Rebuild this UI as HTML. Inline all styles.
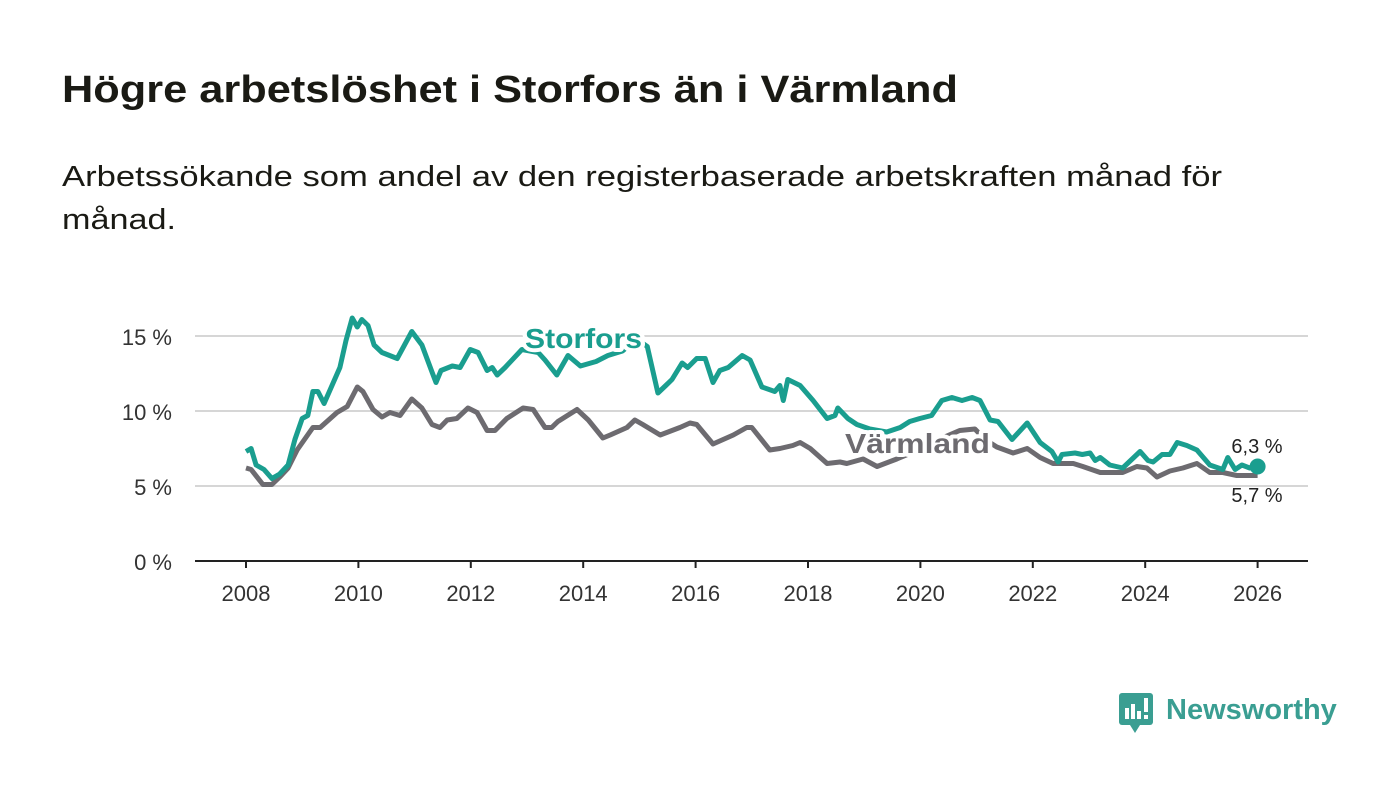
<!DOCTYPE html>
<html><head><meta charset="utf-8">
<style>
body{margin:0;background:#fff;width:1400px;height:794px;overflow:hidden;font-family:"Liberation Sans","DejaVu Sans",sans-serif}
</style></head>
<body>
<svg width="1400" height="794" style="position:absolute;left:0;top:0">
<text x="62" y="102" font-size="38" font-weight="bold" fill="#1a1a14" textLength="896" lengthAdjust="spacingAndGlyphs">Högre arbetslöshet i Storfors än i Värmland</text>
<text x="62" y="186" font-size="29" fill="#1a1a14" textLength="1160" lengthAdjust="spacingAndGlyphs">Arbetssökande som andel av den registerbaserade arbetskraften månad för</text>
<text x="62" y="229" font-size="29" fill="#1a1a14" textLength="114" lengthAdjust="spacingAndGlyphs">månad.</text>
<g id="grid"></g><g id="axis"></g><g id="series"></g><g id="labels"></g>
<g>
<rect x="1119" y="693" width="34" height="32" rx="3" fill="#3a9e92"/>
<polygon points="1130,725 1140,725 1135,733" fill="#3a9e92"/>
<rect x="1125" y="708" width="4" height="11" fill="#fff"/><rect x="1131" y="704" width="4" height="15" fill="#fff"/><rect x="1137" y="711" width="4" height="8" fill="#fff"/><rect x="1144" y="698" width="4" height="14" fill="#fff"/><rect x="1144" y="715" width="4" height="4" fill="#fff"/>
<text x="1166" y="719" font-size="29" font-weight="bold" fill="#3a9e92">Newsworthy</text>
</g>
</svg>
<script>
const yTicks=[0,5,10,15];
const yTickLabels=["0 %","5 %","10 %","15 %"];
const xTicks=[2008,2010,2012,2014,2016,2018,2020,2022,2024,2026];
const storforsYears=[2008.0,2008.09,2008.18,2008.32,2008.46,2008.6,2008.75,2008.87,2009.0,2009.1,2009.19,2009.28,2009.39,2009.53,2009.67,2009.78,2009.89,2009.98,2010.06,2010.17,2010.28,2010.42,2010.69,2010.95,2011.13,2011.31,2011.38,2011.47,2011.67,2011.81,2011.99,2012.13,2012.29,2012.38,2012.47,2012.61,2012.91,2013.2,2013.32,2013.53,2013.73,2013.95,2014.23,2014.44,2014.7,2014.95,2015.14,2015.33,2015.47,2015.58,2015.76,2015.86,2016.02,2016.17,2016.31,2016.43,2016.58,2016.83,2016.97,2017.18,2017.41,2017.5,2017.56,2017.64,2017.86,2018.09,2018.34,2018.48,2018.53,2018.71,2018.87,2019.1,2019.4,2019.64,2019.81,2019.99,2020.2,2020.38,2020.56,2020.74,2020.92,2021.06,2021.24,2021.38,2021.63,2021.9,2022.13,2022.34,2022.45,2022.52,2022.75,2022.88,2023.02,2023.11,2023.2,2023.37,2023.6,2023.91,2024.05,2024.14,2024.3,2024.44,2024.57,2024.74,2024.92,2025.15,2025.38,2025.47,2025.6,2025.72,2025.86,2026.0];
const storforsValues=[7.3,7.5,6.4,6.1,5.5,5.8,6.4,8.1,9.5,9.7,11.3,11.3,10.5,11.7,12.9,14.7,16.2,15.6,16.1,15.7,14.4,13.9,13.5,15.3,14.4,12.6,11.9,12.7,13.0,12.9,14.1,13.9,12.7,12.9,12.4,12.9,14.1,13.9,13.4,12.4,13.7,13.0,13.3,13.7,14.0,14.8,14.3,11.2,11.7,12.1,13.2,12.9,13.5,13.5,11.9,12.7,12.9,13.7,13.4,11.6,11.3,11.7,10.7,12.1,11.7,10.7,9.5,9.7,10.2,9.5,9.1,8.8,8.6,8.9,9.3,9.5,9.7,10.7,10.9,10.7,10.9,10.7,9.4,9.3,8.1,9.2,7.9,7.3,6.6,7.1,7.2,7.1,7.2,6.7,6.9,6.4,6.2,7.3,6.7,6.6,7.1,7.1,7.9,7.7,7.4,6.4,6.1,6.9,6.1,6.4,6.2,6.3];
const varmlandYears=[2008.0,2008.09,2008.3,2008.46,2008.6,2008.75,2008.91,2009.19,2009.32,2009.62,2009.8,2009.98,2010.08,2010.26,2010.42,2010.56,2010.74,2010.95,2011.13,2011.31,2011.45,2011.58,2011.75,2011.95,2012.11,2012.29,2012.43,2012.64,2012.93,2013.11,2013.32,2013.44,2013.55,2013.89,2014.09,2014.35,2014.48,2014.78,2014.92,2015.06,2015.37,2015.72,2015.9,2016.02,2016.31,2016.67,2016.91,2017.0,2017.32,2017.5,2017.73,2017.86,2018.04,2018.34,2018.57,2018.69,2018.98,2019.23,2019.58,2019.9,2020.2,2020.45,2020.7,2020.97,2021.15,2021.36,2021.65,2021.9,2022.13,2022.36,2022.72,2022.89,2023.2,2023.6,2023.85,2024.03,2024.21,2024.44,2024.67,2024.92,2025.15,2025.38,2025.63,2025.86,2026.0];
const varmlandValues=[6.2,6.1,5.1,5.1,5.6,6.2,7.4,8.9,8.9,9.9,10.3,11.6,11.3,10.1,9.6,9.9,9.7,10.8,10.2,9.1,8.9,9.4,9.5,10.2,9.9,8.7,8.7,9.5,10.2,10.1,8.9,8.9,9.3,10.1,9.4,8.2,8.4,8.9,9.4,9.1,8.4,8.9,9.2,9.1,7.8,8.4,8.9,8.9,7.4,7.5,7.7,7.9,7.5,6.5,6.6,6.5,6.8,6.3,6.8,7.3,7.9,8.3,8.7,8.8,8.1,7.6,7.2,7.5,6.9,6.5,6.5,6.3,5.9,5.9,6.3,6.2,5.6,6.0,6.2,6.5,5.9,5.9,5.7,5.7,5.7];
const NS='http://www.w3.org/2000/svg';
const X=y=>246+(y-2008)*56.2;
const Y=v=>561-v*15;
function mk(tag,attrs,parent){const e=document.createElementNS(NS,tag);for(const k in attrs)e.setAttribute(k,attrs[k]);document.getElementById(parent).appendChild(e);return e;}
yTicks.forEach((t,i)=>{
  if(t>0){const g=mk('line',{x1:195,x2:1308,y1:Y(t),y2:Y(t),stroke:'#d6d6d6','stroke-width':2},'grid');
  
  }
  const l=mk('text',{x:172,y:Y(t)+9,'font-size':22,'text-anchor':'end',fill:'#333'},'axis');l.textContent=yTickLabels[i];
  
  
});
const ax=mk('line',{x1:195,x2:1308,y1:561,y2:561,stroke:'#222','stroke-width':2},'axis');


xTicks.forEach(t=>{
  const tk=mk('line',{x1:X(t),x2:X(t),y1:561,y2:568,stroke:'#222','stroke-width':2},'axis');
  
  
  const l=mk('text',{x:X(t),y:601,'font-size':22,'text-anchor':'middle',fill:'#333'},'axis');l.textContent=t;
  
  
});
function path(ys,vs){return ys.map((y,i)=>(i?'L':'M')+X(y).toFixed(1)+','+Y(vs[i]).toFixed(1)).join('');}
const pv=mk('path',{d:path(varmlandYears,varmlandValues),fill:'none',stroke:'#6d6b70','stroke-width':5,'stroke-linejoin':'round'},'series');


const ps=mk('path',{d:path(storforsYears,storforsValues),fill:'none',stroke:'#1a9e8f','stroke-width':5,'stroke-linejoin':'round'},'series');


const ls=storforsYears.length-1,lv=varmlandYears.length-1;
const dot=mk('circle',{cx:X(storforsYears[ls]),cy:Y(storforsValues[ls]),r:8,fill:'#1a9e8f'},'series');


const sl=mk('text',{x:525,y:348,'font-size':28,'font-weight':'bold',fill:'#1a9e8f',stroke:'#fff','stroke-width':8,'paint-order':'stroke','stroke-linejoin':'round',textLength:117,lengthAdjust:'spacingAndGlyphs'},'labels');sl.textContent='Storfors';


const vl=mk('text',{x:845,y:453,'font-size':28,'font-weight':'bold',fill:'#6d6b70',stroke:'#fff','stroke-width':8,'paint-order':'stroke','stroke-linejoin':'round',textLength:145,lengthAdjust:'spacingAndGlyphs'},'labels');vl.textContent='Värmland';


const e1=mk('text',{x:1257,y:453,'font-size':20,'text-anchor':'middle',fill:'#222'},'labels');e1.textContent=storforsValues[ls].toFixed(1).replace('.',',')+' %';


const e2=mk('text',{x:1257,y:502,'font-size':20,'text-anchor':'middle',fill:'#222'},'labels');e2.textContent=varmlandValues[lv].toFixed(1).replace('.',',')+' %';


</script>
</body></html>
